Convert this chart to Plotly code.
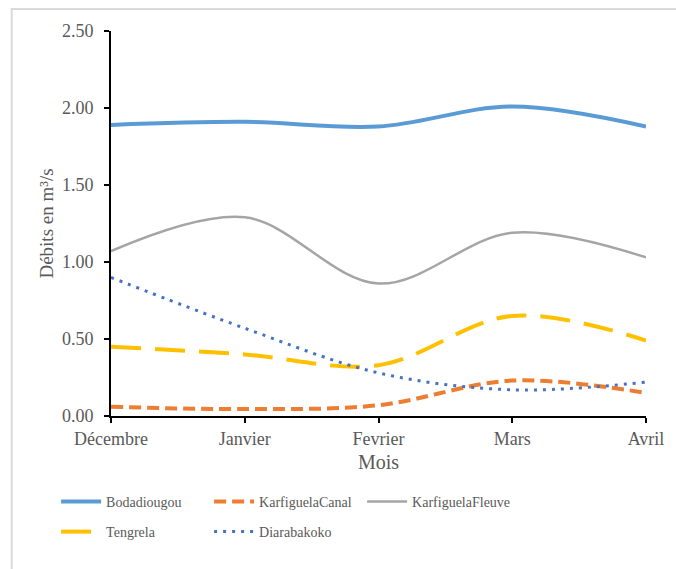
import plotly.graph_objects as go

months = ["Décembre", "Janvier", "Fevrier", "Mars", "Avril"]
bodadiougou = [1.89, 1.91, 1.88, 2.01, 1.88]
karfiguela_canal = [0.06, 0.045, 0.07, 0.23, 0.15]
karfiguela_fleuve = [1.07, 1.29, 0.86, 1.19, 1.03]
tengrela = [0.45, 0.40, 0.33, 0.65, 0.49]
diarabakoko = [0.90, 0.57, 0.28, 0.17, 0.22]
y_ticks = [0, 0.5, 1.0, 1.5, 2.0, 2.5]

series = [
    ("Bodadiougou", bodadiougou, "#5B9BD5", 4, "solid", "legend"),
    ("KarfiguelaCanal", karfiguela_canal, "#ED7D31", 4, "12px,6px", "legend"),
    ("KarfiguelaFleuve", karfiguela_fleuve, "#A5A5A5", 2.5, "solid", "legend"),
    ("Tengrela", tengrela, "#FFC000", 4, "30px,14px", "legend2"),
    ("Diarabakoko", diarabakoko, "#4472C4", 3, "3px,6px", "legend2"),
]

fig = go.Figure()
for name, vals, color, w, dash, lg in series:
    fig.add_trace(go.Scatter(
        x=list(range(len(months))), y=vals, name=name, mode="lines", legend=lg,
        line=dict(color=color, width=w, dash=dash, shape="spline", smoothing=1.0),
    ))

font_family = "Liberation Serif"
grey = "#595959"

leg_common = dict(
    orientation="h", xref="container", yref="container",
    x=0.083, xanchor="left", yanchor="middle",
    entrywidth=98, entrywidthmode="pixels",
    font=dict(family=font_family, size=14, color=grey),
    itemwidth=40, bgcolor="rgba(0,0,0,0)",
)

fig.update_layout(
    width=676, height=569,
    margin=dict(l=111, r=26, t=31, b=153),
    paper_bgcolor="white", plot_bgcolor="white",
    font=dict(family=font_family, color=grey, size=18),
    showlegend=True,
    legend=dict(**leg_common, y=1 - 502 / 569),
    legend2=dict(**leg_common, y=1 - 532 / 569),
    xaxis=dict(
        range=[0, 4], tickmode="array", tickvals=list(range(len(months))), ticktext=months,
        showline=True, linecolor="black", linewidth=2,
        ticks="outside", ticklen=5, tickcolor="black", tickwidth=2,
        showgrid=False, zeroline=False,
        title=dict(text="Mois", font=dict(size=20, color=grey), standoff=7),
        tickfont=dict(size=18, color=grey),
    ),
    yaxis=dict(
        range=[0, 2.5], tickmode="array", tickvals=y_ticks,
        ticktext=[f"{v:.2f}" for v in y_ticks],
        showline=True, linecolor="black", linewidth=2,
        ticks="outside", ticklen=5, tickcolor="black", tickwidth=2,
        ticklabelstandoff=7,
        showgrid=False, zeroline=False,
        title=dict(text="Débits en m³/s", font=dict(size=19, color=grey), standoff=3),
        tickfont=dict(size=18, color=grey),
    ),
    shapes=[dict(type="rect", xref="paper", yref="paper",
                 x0=-100 / 539, x1=1.2, y0=-1.0, y1=1.0 + 22 / 385,
                 line=dict(color="#D9D9D9", width=2), fillcolor="rgba(0,0,0,0)", layer="below")],
)

fig.write_html("out.html")
